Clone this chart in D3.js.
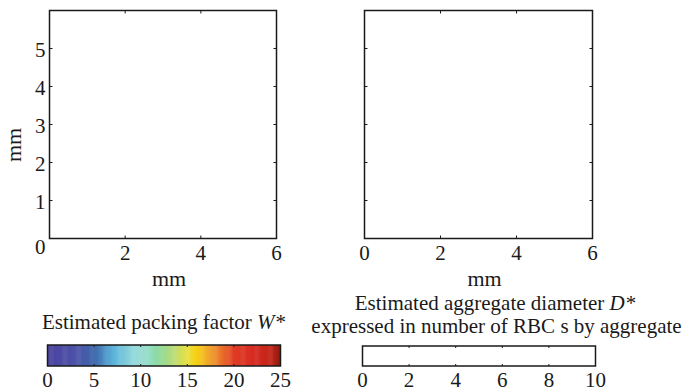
<!DOCTYPE html>
<html><head><meta charset="utf-8">
<script src="https://cdn.jsdelivr.net/npm/d3@7"></script>
<style>
html,body{margin:0;padding:0;background:#fff;}
svg{display:block;font-family:"Liberation Serif","Times New Roman",serif;}
</style></head>
<body>
<svg id="c" width="682" height="390"></svg>
<script>
// ---- data ----
const xTicks = [0, 2, 4, 6];
const yTicks = [0, 1, 2, 3, 4, 5];
const axisDomain = [0, 6];
const wTicks = [0, 5, 10, 15, 20, 25];
const wDomain = [0, 25];
const wStops = [0, 3, 5, 7, 9, 10, 11, 12, 13.5, 15, 16, 17.5, 19, 20, 22, 24, 25];
const wColors = ["#4a42a0","#4e52a8","#3d66aa","#5ab2da","#8ed6dc","#9edcd6","#92dcc0","#8ed99a","#b8dc78","#e8e040","#f6d012","#f0a030","#e86428","#e03c24","#d82c22","#c22418","#8a1c12"];
const dTicks = [0, 2, 4, 6, 8, 10];
const dDomain = [0, 10];
const title1 = "Estimated packing factor ";
const title1i = "W*";
const title2a = "Estimated aggregate diameter ";
const title2ai = "D*";
const title2b = "expressed in number of RBC s by aggregate";
const axisLabel = "mm";

const svg = d3.select("#c");
const ink = "#1a1a1a";
const FS = 21;

function panel(x0, x1, y0, y1, showY) {
  const x = d3.scaleLinear().domain(axisDomain).range([x0, x1]);
  const y = d3.scaleLinear().domain(axisDomain).range([y1, y0]);
  const g = svg.append("g");
  g.append("rect").attr("x", x0).attr("y", y0).attr("width", x1 - x0).attr("height", y1 - y0)
    .attr("fill", "#fff").attr("stroke", ink).attr("stroke-width", 1.5);
  const tl = 3;
  xTicks.filter(t => t > 0 && t < 6).forEach(t => {
    g.append("line").attr("x1", x(t)).attr("x2", x(t)).attr("y1", y1).attr("y2", y1 - tl).attr("stroke", ink);
    g.append("line").attr("x1", x(t)).attr("x2", x(t)).attr("y1", y0).attr("y2", y0 + tl).attr("stroke", ink);
  });
  yTicks.filter(t => t > 0).forEach(t => {
    g.append("line").attr("y1", y(t)).attr("y2", y(t)).attr("x1", x0).attr("x2", x0 + tl).attr("stroke", ink);
    g.append("line").attr("y1", y(t)).attr("y2", y(t)).attr("x1", x1).attr("x2", x1 - tl).attr("stroke", ink);
  });
  xTicks.forEach(t => {
    if (showY && t === 0) return;
    g.append("text").attr("x", x(t)).attr("y", y1 + 21.5).attr("text-anchor", "middle")
      .attr("font-size", FS).attr("fill", ink).text(t);
  });
  if (showY) {
    yTicks.forEach(t => {
      g.append("text").attr("x", x0 - 4).attr("y", y(t) + (t === 0 ? 15 : 8)).attr("text-anchor", "end")
        .attr("font-size", FS).attr("fill", ink).text(t);
    });
    g.append("text").attr("transform", `translate(${x0 - 29},145) rotate(-90)`).attr("text-anchor", "middle")
      .attr("font-size", 22).attr("fill", ink).text(axisLabel);
  }
  g.append("text").attr("x", (x0 + x1) / 2 + 6).attr("y", y1 + 47).attr("text-anchor", "middle")
    .attr("font-size", 22).attr("fill", ink).text(axisLabel);
}

panel(49.5, 276.5, 10.5, 238.5, true);
panel(364.5, 592.5, 10.5, 238.5, false);

// colorbar W*
(function () {
  const x0 = 47.5, x1 = 280.5, y0 = 345, y1 = 366;
  const x = d3.scaleLinear().domain(wDomain).range([x0, x1]);
  const col = d3.scaleLinear().domain(wStops).range(wColors).interpolate(d3.interpolateRgb);
  const steps = d3.range(0, 25, 0.1);
  svg.append("g").selectAll("rect").data(steps).join("rect")
    .attr("x", d => x(d)).attr("y", y0)
    .attr("width", d => x(Math.min(d + 0.1, 25)) - x(d) + 0.5).attr("height", y1 - y0)
    .attr("fill", d => col(d + 0.05));
  svg.append("rect").attr("x", x0).attr("y", y0).attr("width", x1 - x0).attr("height", y1 - y0)
    .attr("fill", "none").attr("stroke", ink).attr("stroke-width", 1.5);
  wTicks.forEach(t => {
    if (t > 0 && t < 25) {
      svg.append("line").attr("x1", x(t)).attr("x2", x(t)).attr("y1", y0).attr("y2", y0 + 2).attr("stroke", ink);
      svg.append("line").attr("x1", x(t)).attr("x2", x(t)).attr("y1", y1).attr("y2", y1 - 2).attr("stroke", ink);
    }
    svg.append("text").attr("x", x(t)).attr("y", 386.5).attr("text-anchor", "middle")
      .attr("font-size", FS).attr("fill", ink).text(t);
  });
  const tt = svg.append("text").attr("x", 163.5).attr("y", 328.5).attr("text-anchor", "middle")
    .attr("font-size", FS).attr("fill", ink);
  tt.append("tspan").text(title1);
  tt.append("tspan").attr("font-style", "italic").text(title1i);
})();

// colorbar D*
(function () {
  const x0 = 362.5, x1 = 595.5, y0 = 346, y1 = 366;
  const x = d3.scaleLinear().domain(dDomain).range([x0, x1]);
  svg.append("rect").attr("x", x0).attr("y", y0).attr("width", x1 - x0).attr("height", y1 - y0)
    .attr("fill", "#fff").attr("stroke", ink).attr("stroke-width", 1.5);
  dTicks.forEach(t => {
    if (t > 0 && t < 10) {
      svg.append("line").attr("x1", x(t)).attr("x2", x(t)).attr("y1", y0).attr("y2", y0 + 2).attr("stroke", ink);
      svg.append("line").attr("x1", x(t)).attr("x2", x(t)).attr("y1", y1).attr("y2", y1 - 2).attr("stroke", ink);
    }
    svg.append("text").attr("x", x(t)).attr("y", 386.5).attr("text-anchor", "middle")
      .attr("font-size", FS).attr("fill", ink).text(t);
  });
  const t1 = svg.append("text").attr("x", 495).attr("y", 310).attr("text-anchor", "middle")
    .attr("font-size", FS).attr("fill", ink);
  t1.append("tspan").text(title2a);
  t1.append("tspan").attr("font-style", "italic").text(title2ai);
  svg.append("text").attr("x", 496.5).attr("y", 333).attr("text-anchor", "middle")
    .attr("font-size", FS).attr("fill", ink).text(title2b);
})();
</script>
</body></html>
